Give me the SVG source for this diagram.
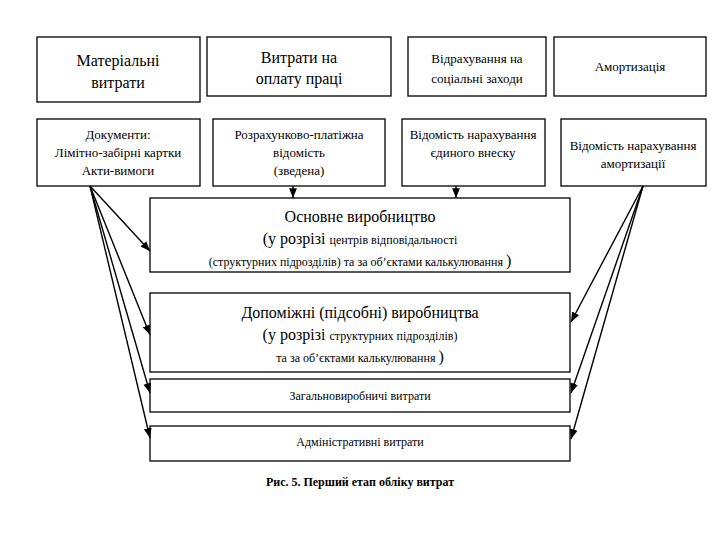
<svg xmlns="http://www.w3.org/2000/svg" width="720" height="540" viewBox="0 0 720 540" font-family="'Liberation Serif','Times New Roman','DejaVu Serif',serif">
<style>
.b{fill:#fff;stroke:#000;stroke-width:1.3}
text{font-family:'Liberation Serif','Times New Roman','DejaVu Serif',serif;fill:#000;text-anchor:middle}
.l{stroke:#000;stroke-width:1.4;fill:none;marker-end:url(#a)}
</style>
<defs><marker id="a" viewBox="0 0 10 10" refX="10" refY="5" markerWidth="7" markerHeight="7" orient="auto"><path d="M0,1L10,5L0,9z" fill="#000"/></marker></defs>
<rect width="720" height="540" fill="#fff"/>
<g id="n1"><rect class="b" x="37" y="37" width="163" height="65"/><text x="118" y="66" font-size="16">Матеріальні</text><text x="118" y="88" font-size="16">витрати</text></g>
<g id="n2"><rect class="b" x="207" y="37" width="184" height="59"/><text x="299" y="63" font-size="16">Витрати на</text><text x="299" y="84" font-size="16">оплату праці</text></g>
<g id="n3"><rect class="b" x="408" y="37" width="138" height="59"/><text x="477" y="63" font-size="13">Відрахування на</text><text x="477" y="83" font-size="13">соціальні заходи</text></g>
<g id="n4"><rect class="b" x="554" y="37" width="152" height="59"/><text x="630" y="71" font-size="13">Амортизація</text></g>
<g id="n5"><rect class="b" x="37" y="119" width="163" height="67"/><text x="118" y="139" font-size="13">Документи:</text><text x="118" y="157" font-size="13">Лімітно-забірні картки</text><text x="118" y="175" font-size="13">Акти-вимоги</text></g>
<g id="n6"><rect class="b" x="213" y="119" width="172" height="67"/><text x="299" y="139" font-size="13">Розрахунково-платіжна</text><text x="299" y="157" font-size="13">відомість</text><text x="299" y="175" font-size="13">(зведена)</text></g>
<g id="n7"><rect class="b" x="402" y="119" width="143" height="67"/><text x="473" y="139" font-size="13">Відомість нарахування</text><text x="473" y="157" font-size="13">єдиного внеску</text></g>
<g id="n8"><rect class="b" x="561" y="119" width="145" height="67"/><text x="633" y="150" font-size="13">Відомість нарахування</text><text x="633" y="168" font-size="13">амортизації</text></g>
<g id="n9"><rect class="b" x="150" y="198" width="420" height="74"/><text x="360" y="222" font-size="16">Основне виробництво</text><text x="360" y="244"><tspan font-size="16">(у розрізі </tspan><tspan font-size="12">центрів відповідальності</tspan></text><text x="360" y="266"><tspan font-size="12">(структурних підрозділів) та за об’єктами калькулювання </tspan><tspan font-size="16">)</tspan></text></g>
<g id="n10"><rect class="b" x="150" y="293" width="420" height="79"/><text x="360" y="318" font-size="16">Допоміжні (підсобні) виробництва</text><text x="360" y="340"><tspan font-size="16">(у розрізі </tspan><tspan font-size="12">структурних підрозділів)</tspan></text><text x="360" y="362"><tspan font-size="12">та за об’єктами калькулювання </tspan><tspan font-size="16">)</tspan></text></g>
<g id="n11"><rect class="b" x="150" y="379" width="420" height="33"/><text x="360" y="400" font-size="12">Загальновиробничі витрати</text></g>
<g id="n12"><rect class="b" x="150" y="426" width="420" height="35"/><text x="360" y="446" font-size="12">Адміністративні витрати</text></g>
<text x="360" y="486" font-size="12" font-weight="bold">Рис. 5. Перший етап обліку витрат</text>
<g id="edges">
<path class="l" d="M293,186V198"/><path class="l" d="M456,186V198"/>
<path class="l" d="M90,186L150,251"/><path class="l" d="M90,186L150,335"/><path class="l" d="M90,186L150,393"/><path class="l" d="M90,186L150,438"/>
<path class="l" d="M643,186L571,322"/><path class="l" d="M643,186L571,393"/><path class="l" d="M643,186L571,439"/>
</g>
</svg>
